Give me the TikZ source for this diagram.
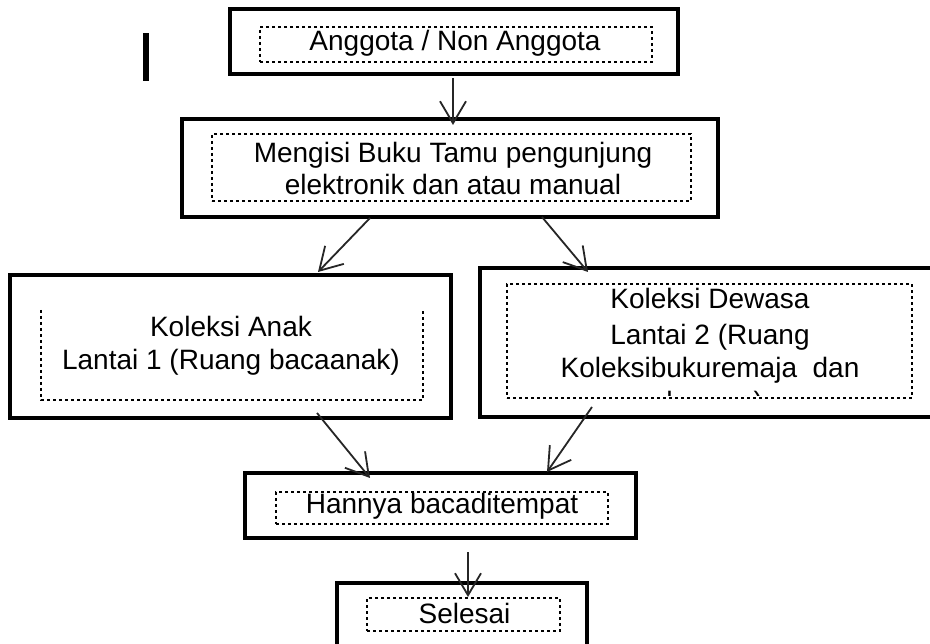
\documentclass[tikz,border=0pt]{standalone}
\usepackage{fontspec}
\setmainfont{Liberation Sans}
\usetikzlibrary{arrows.meta}
\begin{document}
\begin{tikzpicture}[x=1pt,y=-1pt,
  outer/.style={draw=black,line width=3.2pt,rectangle,inner sep=0pt},
  dots/.style={draw=black,line width=2.6pt,dash pattern=on 2.6pt off 3.4pt,rectangle,inner sep=0pt},
  dotline/.style={draw=black,line width=2.6pt,dash pattern=on 2.6pt off 3.4pt},
  txt/.style={anchor=base,inner sep=0pt,font=\fontsize{28}{33}\selectfont},
  arr/.style={draw=black!85,line width=1.8pt,-{Straight Barb[length=22pt,width=26pt]}}]
\useasboundingbox (0,0) rectangle (930,644);
\fill[white] (0,0) rectangle (930,644);
\begin{scope}
\clip (0,0) rectangle (930,644);
% marker bar
\node[fill=black,inner sep=0pt,minimum width=6pt,minimum height=48pt] (bar) at (146,57) {};
% outer boxes
\node[outer,minimum width=448pt,minimum height=65pt] (b1) at (454,41.5) {};
\node[outer,minimum width=536pt,minimum height=98pt] (b2) at (450,168) {};
\node[outer,minimum width=441pt,minimum height=143pt] (b3) at (230.5,346.5) {};
\node[outer,minimum width=465pt,minimum height=149pt] (b4) at (712.5,342.5) {};
\node[outer,minimum width=391pt,minimum height=65pt] (b5) at (440.5,505.5) {};
\node[outer,minimum width=250pt,minimum height=65pt] (b6) at (462,615.5) {};
% texts
\node[txt] (t1) at (455,51) {Anggota / Non Anggota};
\node[txt] (t2a) at (453,163) {Mengisi Buku Tamu pengunjung};
\node[txt] (t2b) at (453,195) {elektronik dan atau manual};
\node[txt] (t3a) at (231,337) {Koleksi Anak};
\node[txt] (t3b) at (231,370) {Lantai 1 (Ruang bacaanak)};
\node[txt] (t4a) at (710,309) {Koleksi Dewasa};
\node[txt] (t4b) at (710,345) {Lantai 2 (Ruang};
\node[txt] (t4c) at (710,378) {Koleksibukuremaja\ \ dan};
\begin{scope}
\clip (507,284) rectangle (912,396);
\node[txt] (t4d) at (710,411.5) {dewasa)};
\end{scope}
\node[txt] (t5) at (442,513) {Hannya bacaditempat};
\node[txt] (t6) at (464.5,623) {Selesai};
% inner dotted boxes
\node[dots,minimum width=392pt,minimum height=35pt] (i1) at (456,44.5) {};
\node[dots,minimum width=479pt,minimum height=67pt] (i2) at (451.5,167.5) {};
\coordinate (i3a) at (41,310);
\coordinate (i3b) at (41,400);
\coordinate (i3c) at (423,400);
\coordinate (i3d) at (423,311);
\draw[dotline] (i3a) -- (i3b) -- (i3c) -- (i3d);
\node[dots,minimum width=405pt,minimum height=114pt] (i4) at (709.5,341) {};
\node[dots,minimum width=332pt,minimum height=32pt] (i5) at (442,508) {};
\node[dots,minimum width=193pt,minimum height=33pt] (i6) at (463.5,614.5) {};
% connectors
\coordinate (a1s) at (453,78);  \coordinate (a1e) at (453,125);
\coordinate (a2s) at (370,218); \coordinate (a2e) at (318,272);
\coordinate (a3s) at (542,217); \coordinate (a3e) at (588,272);
\coordinate (a4s) at (317,413); \coordinate (a4e) at (370,478);
\coordinate (a5s) at (592,407); \coordinate (a5e) at (547,472);
\coordinate (a6s) at (468,552); \coordinate (a6e) at (468,597);
\draw[arr] (a1s) -- (a1e);
\draw[arr] (a2s) -- (a2e);
\draw[arr] (a3s) -- (a3e);
\draw[arr] (a4s) -- (a4e);
\draw[arr] (a5s) -- (a5e);
\draw[arr] (a6s) -- (a6e);
\end{scope}
\end{tikzpicture}
\end{document}
